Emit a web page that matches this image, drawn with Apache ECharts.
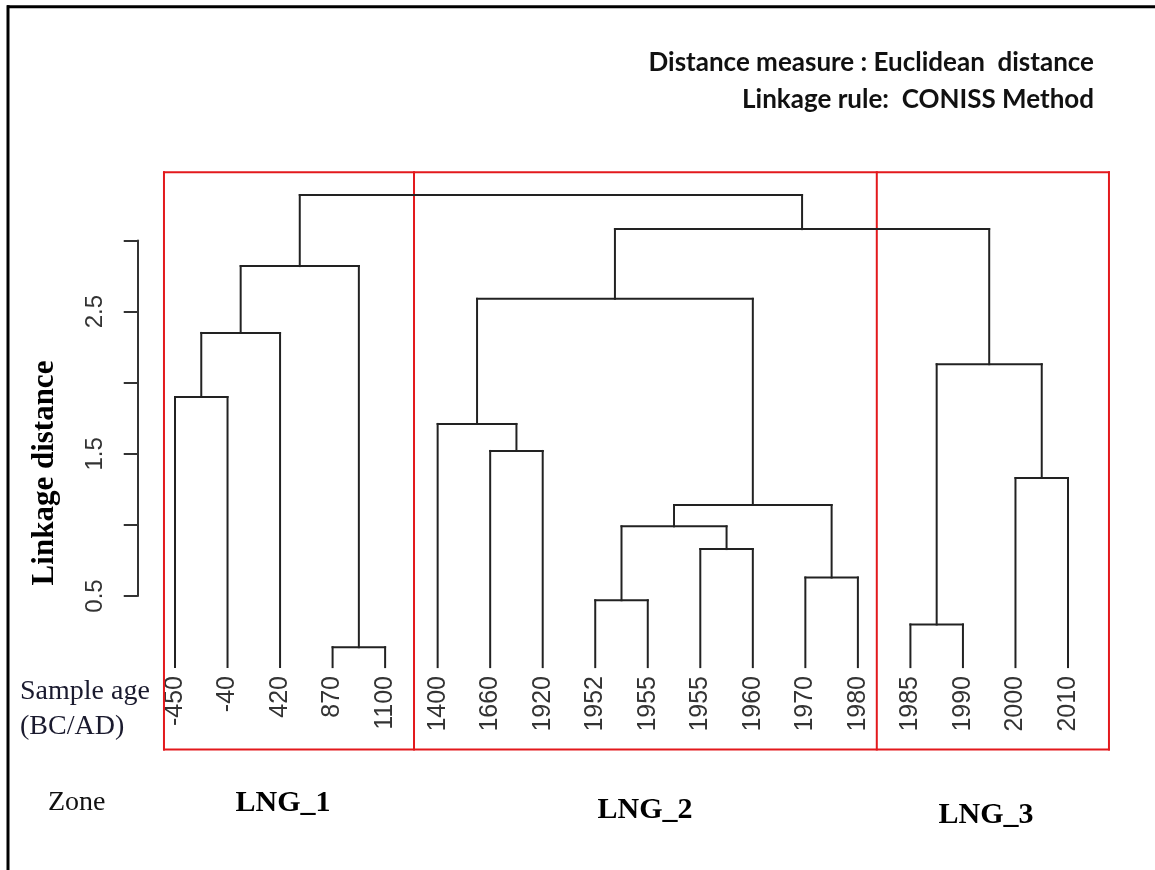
<!DOCTYPE html>
<html><head><meta charset="utf-8">
<script src="https://cdn.jsdelivr.net/npm/echarts@6/dist/echarts.min.js"></script>
<style>html,body{margin:0;padding:0;background:#fff}#c{width:1155px;height:870px}</style>
</head><body><div id="c"></div>
<script>
// Leaves (sample ages, BC/AD) in dendrogram order
const leafLabels = ['-450','-40','420','870','1100','1400','1660','1920','1952','1955','1955','1960','1970','1980','1985','1990','2000','2010'];
// Merge table (R hclust style): negative = leaf (1-based), positive = earlier merge step (1-based)
const mergeLeft  = [-4, -15, -9, -13, -11, 3, 6, -17, -7, -6, -1, 2, 11, 10, 13, 14, 15];
const mergeRight = [-5, -16, -10, -14, -12, 5, 4, -18, -8, 9, -2, 8, -3, 7, 1, 12, 16];
const mergeHeights = [0.14, 0.30, 0.47, 0.63, 0.83, 0.99, 1.14, 1.33, 1.52, 1.71, 1.90, 2.13, 2.35, 2.59, 2.82, 3.08, 3.32];
// Y axis ticks and labels
const yTicks = [0.5, 1.0, 1.5, 2.0, 2.5, 3.0];
const yTickLabels = ['0.5', '', '1.5', '', '2.5', ''];
// Zone boxes (in leaf-index units) and their vertical extent (in linkage distance units)
const zoneEdges = [-0.21, 4.55, 13.36, 17.78];
const zoneBoxTop = 3.48;
const zoneBoxBottom = -0.58;
const zoneNames = ['LNG_1', 'LNG_2', 'LNG_3'];

// Build dendrogram segments from the merge table
const nodeX = [], nodeH = [];
function pos(ref) {
  if (ref < 0) return [-ref - 1, 0];
  return [nodeX[ref - 1], nodeH[ref - 1]];
}
const segments = [];
for (let k = 0; k < mergeLeft.length; k++) {
  const [xl, hl] = pos(mergeLeft[k]);
  const [xr, hr] = pos(mergeRight[k]);
  const h = mergeHeights[k];
  nodeX.push((xl + xr) / 2); nodeH.push(h);
  segments.push([xl, hl, xl, h]);
  segments.push([xr, hr, xr, h]);
  segments.push([xl, h, xr, h]);
}
// Zone box segments
const boxSegs = [];
boxSegs.push([zoneEdges[0], zoneBoxTop, zoneEdges[zoneEdges.length - 1], zoneBoxTop]);
boxSegs.push([zoneEdges[0], zoneBoxBottom, zoneEdges[zoneEdges.length - 1], zoneBoxBottom]);
zoneEdges.forEach(e => boxSegs.push([e, zoneBoxBottom, e, zoneBoxTop]));

function segRender(color, width) {
  return function (params, api) {
    const p1 = api.coord([api.value(0), api.value(1)]);
    const p2 = api.coord([api.value(2), api.value(3)]);
    return { type: 'line', shape: { x1: p1[0], y1: p1[1], x2: p2[0], y2: p2[1] },
      style: { stroke: color, lineWidth: width, lineCap: 'square' } };
  };
}

const chart = echarts.init(document.getElementById('c'), null, { renderer: 'canvas' });
const serif = '"Liberation Serif", "DejaVu Serif", serif';
const sans = '"Liberation Sans", Arial, sans-serif';
chart.setOption({
  backgroundColor: '#fff',
  animation: false,
  grid: { left: 148.74, right: 60.74, top: 240.5, bottom: 274, containLabel: false },
  xAxis: [
    { type: 'category', data: leafLabels, boundaryGap: true, position: 'bottom',
      axisLine: { show: false }, axisTick: { show: false }, splitLine: { show: false },
      axisLabel: { interval: 0, rotate: 90, margin: 80, fontSize: 25, fontFamily: sans, color: '#333' } },
    { type: 'value', min: -0.5, max: 17.5, show: false }
  ],
  yAxis: {
    type: 'value', min: 0.5, max: 3.0, interval: 0.5, offset: 11, position: 'left',
    axisLine: { show: true, onZero: false, lineStyle: { color: '#333', width: 2 } },
    axisTick: { show: true, length: 14, lineStyle: { color: '#333', width: 2 } },
    splitLine: { show: false },
    axisLabel: { rotate: 90, margin: 30, fontSize: 24, fontFamily: sans, color: '#333',
      formatter: v => { const i = yTicks.findIndex(t => Math.abs(t - v) < 1e-6); return i >= 0 ? yTickLabels[i] : ''; } }
  },
  series: [
    { type: 'custom', xAxisIndex: 1, yAxisIndex: 0, clip: false, silent: true,
      renderItem: segRender('#e3191c', 2), data: boxSegs, z: 1 },
    { type: 'custom', xAxisIndex: 1, yAxisIndex: 0, clip: false, silent: true,
      renderItem: segRender('#222', 2), data: segments, z: 2 }
  ],
  graphic: [
    { type: 'line', shape: { x1: 7, y1: 6.7, x2: 1155, y2: 6.7 }, style: { stroke: '#000', lineWidth: 3 } },
    { type: 'line', shape: { x1: 8, y1: 5.2, x2: 8, y2: 870 }, style: { stroke: '#000', lineWidth: 3 } },
    { type: 'text', x: 1094, y: 63, style: { text: 'Distance measure : Euclidean  distance', fill: '#111',
      font: 'bold 26px Lato, "Open Sans", sans-serif', textAlign: 'right', textVerticalAlign: 'middle' } },
    { type: 'text', x: 1094, y: 100, style: { text: 'Linkage rule:  CONISS Method', fill: '#111',
      font: 'bold 26px Lato, "Open Sans", sans-serif', textAlign: 'right', textVerticalAlign: 'middle' } },
    { type: 'text', x: 45, y: 473, rotation: Math.PI / 2, style: { text: 'Linkage distance', fill: '#000',
      font: 'bold 31px ' + serif, textAlign: 'center', textVerticalAlign: 'middle' } },
    { type: 'text', x: 20, y: 692, style: { text: 'Sample age', fill: '#1a1a2e',
      font: '28px ' + serif, textAlign: 'left', textVerticalAlign: 'middle' } },
    { type: 'text', x: 20, y: 727, style: { text: '(BC/AD)', fill: '#1a1a2e',
      font: '28px ' + serif, textAlign: 'left', textVerticalAlign: 'middle' } },
    { type: 'text', x: 48, y: 803, style: { text: 'Zone', fill: '#111',
      font: '28px ' + serif, textAlign: 'left', textVerticalAlign: 'middle' } },
    { type: 'text', x: 283, y: 803, style: { text: zoneNames[0], fill: '#000',
      font: 'bold 30px ' + serif, textAlign: 'center', textVerticalAlign: 'middle' } },
    { type: 'text', x: 645, y: 810, style: { text: zoneNames[1], fill: '#000',
      font: 'bold 30px ' + serif, textAlign: 'center', textVerticalAlign: 'middle' } },
    { type: 'text', x: 986, y: 815, style: { text: zoneNames[2], fill: '#000',
      font: 'bold 30px ' + serif, textAlign: 'center', textVerticalAlign: 'middle' } }
  ]
});
</script>
</body></html>
